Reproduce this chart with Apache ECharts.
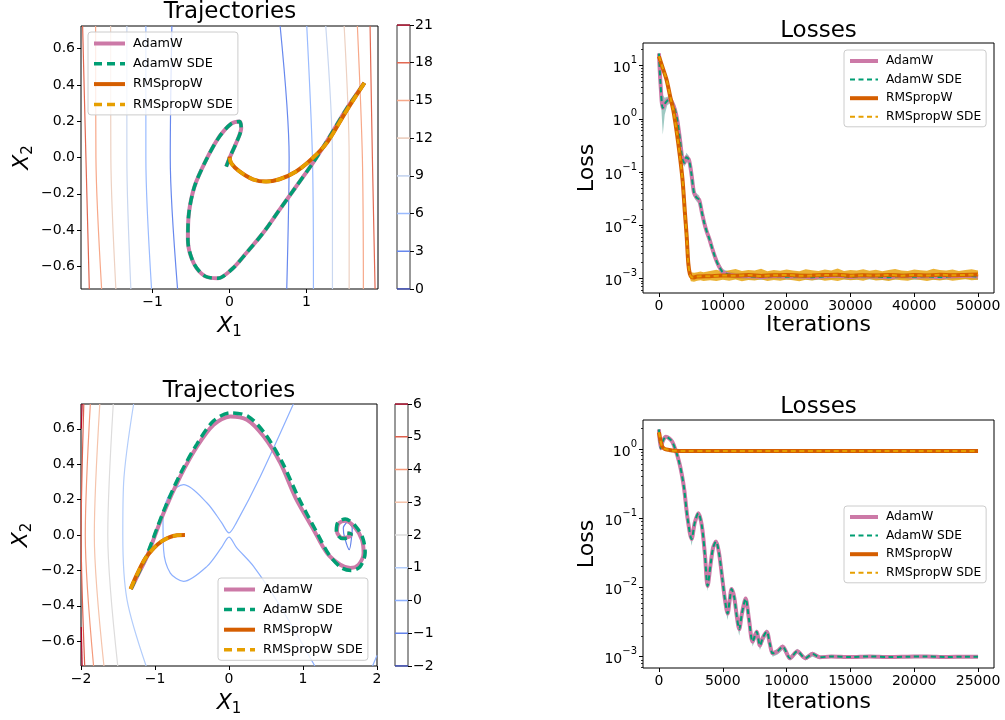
<!DOCTYPE html>
<html>
<head>
<meta charset="utf-8">
<script src="https://cdn.jsdelivr.net/npm/echarts@6.0.0/dist/echarts.min.js"></script>
<style>
  html, body { margin: 0; padding: 0; background: #fff; }
  #main { width: 1005px; height: 720px; }
</style>
</head>
<body>
<div id="main"></div>
<script>
// ---------- data ----------
const names = ['AdamW', 'AdamW SDE', 'RMSpropW', 'RMSpropW SDE'];

// tick values
const tlXTicks = [-1, 0, 1];
const tlYTicks = [-0.6, -0.4, -0.2, 0, 0.2, 0.4, 0.6];
const blXTicks = [-2, -1, 0, 1, 2];
const blYTicks = [-0.6, -0.4, -0.2, 0, 0.2, 0.4, 0.6];
const trXTicks = [0, 10000, 20000, 30000, 40000, 50000];
const brXTicks = [0, 5000, 10000, 15000, 20000, 25000];
const trYTicks = [0.001, 0.01, 0.1, 1, 10];
const brYTicks = [0.001, 0.01, 0.1, 1];
const trDecades = [0.0001, 0.001, 0.01, 0.1, 1, 10];
const brDecades = [0.0001, 0.001, 0.01, 0.1, 1];
const minorSteps = [2, 3, 4, 5, 6, 7, 8, 9];
const tlLevels = [0, 3, 6, 9, 12, 15, 18, 21];
const blLevels = [-2, -1, 0, 1, 2, 3, 4, 5, 6];

// contour lines (level, points) top-left
const tlContours = [
  { level: 18, pts: [[-1.909, 0.725], [-1.866, 0], [-1.822, -0.725]] },
  { level: 15, pts: [[-1.740, 0.725], [-1.736, 0], [-1.662, -0.725]] },
  { level: 12, pts: [[-1.545, 0.725], [-1.542, 0], [-1.477, -0.725]] },
  { level: 9,  pts: [[-1.334, 0.725], [-1.334, 0], [-1.282, -0.725]] },
  { level: 6,  pts: [[-1.087, 0.725], [-1.087, 0], [-1.013, -0.725]] },
  { level: 3,  pts: [[-0.749, 0.725], [-0.770, 0], [-0.675, -0.725]] },
  { level: 3,  pts: [[0.658, 0.725], [0.775, 0], [0.744, -0.725]] },
  { level: 6,  pts: [[1.004, 0.725], [1.078, 0], [1.091, -0.725]] },
  { level: 9,  pts: [[1.251, 0.725], [1.338, 0], [1.338, -0.725]] },
  { level: 12, pts: [[1.490, 0.725], [1.555, 0], [1.555, -0.725]] },
  { level: 15, pts: [[1.662, 0.725], [1.727, 0], [1.740, -0.725]] },
  { level: 18, pts: [[1.827, 0.725], [1.857, 0], [1.892, -0.725]] }
];

// contour lines bottom-left
const blContours = [
  { level: 6, pts: [[-1.985, 0.74], [-1.996, 0.60]] },
  { level: 6, pts: [[-1.996, -0.52], [-1.985, -0.74]] },
  { level: 5, pts: [[-1.962, 0.74], [-1.998, 0], [-1.950, -0.74]] },
  { level: 4, pts: [[-1.874, 0.74], [-1.942, 0], [-1.830, -0.74]] },
  { level: 3, pts: [[-1.746, 0.74], [-1.820, 0], [-1.690, -0.74]] },
  { level: 2, pts: [[-1.564, 0.74], [-1.638, 0], [-1.503, -0.74]] },
  { level: 1, pts: [[-1.289, 0.74], [-1.424, 0.294], [-1.435, 0], [-1.378, -0.366], [-1.12, -0.74]] },
  { level: 0, pts: [[0.87, 0.74], [0.423, 0.331], [0.1, 0.07], [0, 0.012], [-0.1, 0.07], [-0.297, 0.181],
                    [-0.614, 0.284], [-0.793, 0.237], [-0.892, 0.105], [-0.884, -0.083], [-0.793, -0.215],
                    [-0.614, -0.262], [-0.297, -0.177], [-0.1, -0.07], [0, -0.012], [0.1, -0.07],
                    [0.332, -0.177], [0.693, -0.403], [1.16, -0.74]] },
  { level: 0, pts: [[1.94, -0.74], [2.0, -0.68]] },
  { level: -1, pts: [[1.6, 0.075], [1.665, 0.04], [1.66, 0.0], [1.625, -0.083], [1.56, -0.01], [1.545, 0.04], [1.6, 0.075]] }
];

// trajectories top-left
const tlAdamW = [[1.753, 0.411], [1.515, 0.264], [1.277, 0.098], [1.082, -0.031], [0.866, -0.16], [0.649, -0.289],
  [0.433, -0.418], [0.216, -0.528], [0.043, -0.611], [-0.15, -0.666], [-0.32, -0.654], [-0.465, -0.583],
  [-0.541, -0.455], [-0.528, -0.307], [-0.455, -0.16], [-0.303, -0.013], [-0.13, 0.116], [0.022, 0.186],
  [0.13, 0.199], [0.152, 0.162], [0.087, 0.08], [0.009, 0.006], [-0.043, -0.05]];
const tlAdamWSde = tlAdamW;
const tlRms = [[1.753, 0.411], [1.515, 0.254], [1.277, 0.088], [1.082, -0.003], [0.866, -0.077], [0.649, -0.12],
  [0.476, -0.133], [0.303, -0.12], [0.13, -0.077], [0.022, -0.031], [0, 0.006]];
const tlRmsSde = tlRms;

// trajectories bottom-left
const blAdamW = [[-1.324, -0.305], [-1.2, -0.2], [-1.108, -0.121], [-0.884, 0.124], [-0.658, 0.331], [-0.432, 0.5],
  [-0.208, 0.623], [0.018, 0.67], [0.243, 0.651], [0.468, 0.557], [0.693, 0.407], [0.9, 0.21], [1.143, 0.03],
  [1.324, -0.102], [1.504, -0.168], [1.639, -0.186], [1.751, -0.168], [1.819, -0.102], [1.797, -0.027],
  [1.707, 0.04], [1.572, 0.08], [1.481, 0.065], [1.459, 0.02], [1.527, -0.017], [1.616, -0.011], [1.65, 0.005], [1.6, 0.01]];
const blAdamWSde = [[-1.324, -0.305], [-1.2, -0.195], [-1.108, -0.112], [-0.884, 0.135], [-0.658, 0.345], [-0.432, 0.515],
  [-0.208, 0.645], [0.018, 0.69], [0.26, 0.67], [0.49, 0.57], [0.72, 0.41], [0.94, 0.21], [1.18, 0.02],
  [1.35, -0.11], [1.52, -0.185], [1.65, -0.2], [1.77, -0.18], [1.84, -0.1], [1.81, -0.02], [1.71, 0.05],
  [1.57, 0.09], [1.47, 0.07], [1.45, 0.02], [1.53, -0.02], [1.62, -0.015], [1.65, 0.005], [1.6, 0.01]];
const blRms = [[-1.33, -0.305], [-1.24, -0.22], [-1.135, -0.135], [-1.02, -0.075], [-0.911, -0.036],
  [-0.8, -0.012], [-0.7, -0.002], [-0.595, 0.0]];
const blRmsSde = blRms;

// losses top-right
const trAdamIt = [0, 250, 600, 900, 1300, 1700, 2100, 2500, 2900, 3300, 3700, 4000, 4300, 4700, 5100, 5500, 5900,
  6300, 6700, 7100, 7500, 7900, 8300, 8700, 9100, 9500, 10000, 10500, 11000, 11500, 12000, 14000, 16000, 18000,
  20000, 22000, 24000, 26000, 28000, 30000, 32000, 34000, 36000, 38000, 40000, 42000, 44000, 46000, 48000, 50000];
const trAdam = [17, 4.5, 1.6, 1.9, 2.2, 2.3, 2.0, 1.5, 0.9, 0.4, 0.17, 0.15, 0.19, 0.17, 0.09, 0.04, 0.033, 0.03,
  0.018, 0.011, 0.0075, 0.0055, 0.0038, 0.0027, 0.002, 0.0016, 0.0013, 0.00122, 0.00118, 0.00115, 0.00112,
  0.00109, 0.00106, 0.00111, 0.00107, 0.0011, 0.00105, 0.00109, 0.00112, 0.00106, 0.0011, 0.00108, 0.00105,
  0.00111, 0.00107, 0.00109, 0.00106, 0.0011, 0.00112, 0.00108];
const trAdamLo = [15, 3.0, 0.5, 1.2, 1.8, 1.95, 1.65, 1.2, 0.72, 0.32, 0.14, 0.125, 0.16, 0.14, 0.075, 0.033, 0.028,
  0.025, 0.015, 0.009, 0.0062, 0.0046, 0.0032, 0.0023, 0.0017, 0.0014, 0.00115, 0.00106, 0.00102, 0.001, 0.00098,
  0.00095, 0.00093, 0.00097, 0.00094, 0.00096, 0.00092, 0.00095, 0.00098, 0.00093, 0.00096, 0.00094, 0.00092,
  0.00097, 0.00094, 0.00095, 0.00093, 0.00096, 0.00098, 0.00094];
const trAdamHi = [19, 6.0, 2.8, 2.5, 2.6, 2.7, 2.4, 1.85, 1.1, 0.5, 0.21, 0.18, 0.23, 0.2, 0.11, 0.048, 0.04, 0.036,
  0.022, 0.0135, 0.009, 0.0066, 0.0045, 0.0032, 0.0024, 0.0019, 0.0015, 0.0014, 0.00135, 0.0013, 0.00128,
  0.00125, 0.00122, 0.00127, 0.00123, 0.00126, 0.0012, 0.00125, 0.00128, 0.00122, 0.00126, 0.00124, 0.0012,
  0.00127, 0.00123, 0.00125, 0.00122, 0.00126, 0.00128, 0.00124];
const trRmsIt = [0, 600, 1200, 1800, 2240, 2800, 3290, 3700, 4070, 4350, 4600, 4850, 5120, 5500, 6000, 8000, 10000,
  12000, 14000, 16000, 18000, 20000, 22000, 24000, 26000, 28000, 30000, 32000, 34000, 36000, 38000, 40000, 42000,
  44000, 46000, 48000, 50000];
const trRms = [15, 9, 5.4, 2.5, 1.47, 0.55, 0.195, 0.07, 0.017, 0.006, 0.0019, 0.0012, 0.00105, 0.00104, 0.00108,
  0.0011, 0.00113, 0.00112, 0.00115, 0.00111, 0.00114, 0.00116, 0.00112, 0.00113, 0.00115, 0.00117, 0.00112,
  0.00114, 0.00113, 0.00116, 0.00112, 0.00115, 0.00113, 0.00117, 0.00114, 0.00116, 0.00118];
const trRmsBandIt = [4400, 4600, 4800, 5000, 5500, 6000, 6500, 7000, 8000, 9000, 10000, 11000, 12000, 13000, 14000,
  15000, 16000, 17000, 18000, 19000, 20000, 21000, 22000, 23000, 24000, 25000, 26000, 27000, 28000, 29000, 30000,
  31000, 32000, 33000, 34000, 35000, 36000, 37000, 38000, 39000, 40000, 41000, 42000, 43000, 44000, 45000, 46000,
  47000, 48000, 49000, 50000];
const trRmsLo = [0.0042, 0.0016, 0.00105, 0.00088, 0.00086, 0.0009, 0.00092, 0.00089,
  0.00092, 0.00089, 0.00094, 0.0009, 0.00095, 0.00088, 0.00093, 0.00091, 0.00096, 0.00089,
  0.00093, 0.0009, 0.00095, 0.00092, 0.00088, 0.00094, 0.00091, 0.00096, 0.0009, 0.00093,
  0.00089, 0.00095, 0.00092, 0.00094, 0.0009, 0.00097, 0.00091, 0.00093, 0.00089, 0.00095,
  0.00092, 0.0009, 0.00096, 0.00093, 0.00089, 0.00094, 0.00091, 0.00095, 0.0009, 0.00093,
  0.00096, 0.00092, 0.00094];
const trRmsHi = [0.0075, 0.0026, 0.0016, 0.0013, 0.00128, 0.0013, 0.00134, 0.0013,
  0.00138, 0.00145, 0.00135, 0.00142, 0.0015, 0.00137, 0.00144, 0.0014, 0.00152, 0.00136,
  0.00143, 0.00139, 0.00147, 0.00141, 0.00136, 0.00149, 0.00142, 0.00138, 0.00146, 0.0014,
  0.00153, 0.00137, 0.00144, 0.00141, 0.00148, 0.00139, 0.00145, 0.00136, 0.00143, 0.0015,
  0.00141, 0.00138, 0.00147, 0.00142, 0.00139, 0.00151, 0.00143, 0.0014, 0.00146, 0.00138,
  0.00144, 0.00149, 0.00141];

// losses bottom-right
const brAdamIt = [0, 140, 300, 550, 800, 1040, 1300, 1570, 1800, 1980, 2240, 2560, 2800, 3080, 3350, 3600, 3810,
  4050, 4250, 4470, 4700, 4950, 5180, 5380, 5550, 5690, 5900, 6100, 6290, 6500, 6790, 7050, 7340, 7650, 7910, 8150,
  8440, 8700, 8910, 9300, 9690, 10270, 10840, 11460, 12020, 12600, 13500, 15000, 16500, 18000, 19500, 21000,
  22500, 24000, 25000];
const brAdam = [1.92, 1.02, 1.3, 1.5, 1.42, 1.27, 0.97, 0.66, 0.42, 0.26, 0.1, 0.05, 0.085, 0.118, 0.08, 0.03,
  0.0105, 0.022, 0.038, 0.046, 0.032, 0.014, 0.0065, 0.0042, 0.0068, 0.0095, 0.0072, 0.0038, 0.0025, 0.0042,
  0.0069, 0.0035, 0.00165, 0.0023, 0.00145, 0.0019, 0.0023, 0.0015, 0.00112, 0.0012, 0.0014, 0.00095, 0.0012,
  0.00095, 0.0011, 0.00098, 0.00101, 0.00099, 0.00101, 0.00099, 0.001, 0.00101, 0.00099, 0.001, 0.001];
const brAdamLo = [1.85, 0.95, 1.25, 1.45, 1.38, 1.22, 0.92, 0.62, 0.39, 0.23, 0.085, 0.04, 0.075, 0.108, 0.07,
  0.024, 0.0088, 0.019, 0.034, 0.042, 0.028, 0.011, 0.0052, 0.0034, 0.0058, 0.0085, 0.006, 0.003, 0.002, 0.0035,
  0.0062, 0.0029, 0.0014, 0.002, 0.00125, 0.0016, 0.002, 0.0013, 0.001, 0.00108, 0.00125, 0.00088, 0.0011,
  0.00088, 0.001, 0.00093, 0.00096, 0.00094, 0.00096, 0.00094, 0.00095, 0.00096, 0.00094, 0.00095, 0.00095];
const brAdamHi = [1.98, 1.08, 1.35, 1.55, 1.46, 1.32, 1.02, 0.7, 0.45, 0.28, 0.11, 0.056, 0.092, 0.126, 0.088,
  0.034, 0.0118, 0.024, 0.041, 0.049, 0.035, 0.016, 0.0074, 0.0048, 0.0075, 0.0102, 0.008, 0.0043, 0.0029, 0.0047,
  0.0074, 0.0039, 0.0018, 0.0025, 0.0016, 0.0021, 0.0025, 0.0016, 0.0012, 0.0013, 0.0015, 0.00102, 0.0013,
  0.00102, 0.00118, 0.00103, 0.00106, 0.00104, 0.00106, 0.00104, 0.00105, 0.00106, 0.00104, 0.00105, 0.00105];
const brRmsIt = [0, 130, 260, 450, 780, 1200, 2000, 25000];
const brRms = [1.74, 1.3, 1.08, 1.0, 0.97, 0.945, 0.935, 0.935];

// ---------- styles ----------
const FONT = 'DejaVu Sans';
const colors = { 'AdamW': '#CC79A7', 'AdamW SDE': '#009E73', 'RMSpropW': '#D55E00', 'RMSpropW SDE': '#E69F00' };
const tlLevelColor = { 0: '#3b4cc0', 3: '#6788ee', 6: '#9abbff', 9: '#c9d7f0', 12: '#edd1c2', 15: '#f7a889', 18: '#e26952', 21: '#b40426' };
const blLevelColor = { '-2': '#3b4cc0', '-1': '#6282ea', '0': '#8db0fe', '1': '#b3cdfb', '2': '#dddcdc', '3': '#f5c4ac', '4': '#f49a7b', '5': '#de604d', '6': '#b40426' };

const minus = s => String(s).replace('-', '\u2212');
const fixed = d => v => minus((Math.abs(v) < 1e-9 ? 0 : v).toFixed(d));
const pow10 = v => '{b|10}{s|' + minus(Math.round(Math.log10(v))) + '}';
const sub = (a, b) => '{i|' + a + '}{s|' + b + '}';

const pairs = (xs, ys) => xs.map((x, i) => [x, ys[i]]);
const minorTicks = (decades, lo, hi) => [].concat(...decades.map(d => minorSteps.map(m => m * d)))
  .filter(v => v > lo && v < hi);

function axis(gi, min, max, ticks, fmt, name, gap, opts) {
  return Object.assign({
    type: 'value', gridIndex: gi, min, max,
    axisLine: { show: false, onZero: false },
    splitLine: { show: false },
    axisTick: { show: true, length: 4, customValues: ticks, lineStyle: { color: '#000', width: 1 } },
    axisLabel: {
      customValues: ticks, formatter: fmt, color: '#000', fontSize: 14, fontFamily: FONT, margin: 6,
      rich: {
        b: { fontSize: 14, fontFamily: FONT, color: '#000', lineHeight: 20, verticalAlign: 'bottom' },
        s: { fontSize: 10, fontFamily: FONT, color: '#000', lineHeight: 10, verticalAlign: 'top' }
      }
    },
    name, nameLocation: 'middle', nameGap: gap,
    nameTextStyle: {
      fontSize: 22, fontFamily: FONT, color: '#000',
      rich: {
        i: { fontSize: 22, fontFamily: FONT, fontStyle: 'italic', color: '#000', lineHeight: 28 },
        s: { fontSize: 15, fontFamily: FONT, color: '#000', lineHeight: 14, verticalAlign: 'bottom' }
      }
    }
  }, opts || {});
}

// second log axis on the same grid, only for the small minor ticks
function minorAxis(gi, min, max, ticks) {
  return {
    type: 'log', logBase: 10, gridIndex: gi, min, max, position: 'left',
    axisLine: { show: false, onZero: false }, splitLine: { show: false },
    axisTick: { show: true, length: 2, customValues: ticks, lineStyle: { color: '#000', width: 0.8 } },
    axisLabel: { show: false }
  };
}

function line(name, data, gi, width, dash, yi) {
  return {
    type: 'line', name, xAxisIndex: gi, yAxisIndex: yi == null ? gi : yi, data, smooth: 0.3, symbol: 'none',
    lineStyle: { color: colors[name], width, type: dash || 'solid', cap: 'butt' },
    itemStyle: { color: colors[name] }, z: 3, silent: true
  };
}

function contours(list, gi, cmap) {
  return list.map(c => ({
    type: 'line', xAxisIndex: gi, yAxisIndex: gi, data: c.pts, smooth: 0.3, symbol: 'none', silent: true,
    lineStyle: { color: cmap[c.level], width: 1.2 }, z: 1
  }));
}

function band(gi, its, lo, hi, color, opacity) {
  const poly = pairs(its, hi).concat(pairs(its, lo).reverse());
  return {
    type: 'custom', xAxisIndex: gi, yAxisIndex: gi, data: poly, silent: true, clip: true, z: 2,
    encode: { x: 0, y: 1 },
    renderItem: (params, api) => params.dataIndex === 0 ? {
      type: 'polygon', shape: { points: poly.map(p => api.coord(p)) }, style: { fill: color, opacity }
    } : null
  };
}

function cbar(gi, levels, cmap) {
  return levels.map(l => ({
    type: 'line', xAxisIndex: gi, yAxisIndex: gi, data: [[0, l], [1, l]], symbol: 'none', silent: true,
    lineStyle: { color: cmap[l], width: 1.6 }
  }));
}

function legend(left, top, iw, widths, dashes, fs, gap) {
  return {
    orient: 'vertical', left, top, selectedMode: false,
    itemWidth: iw, itemHeight: 12, itemGap: gap,
    padding: [5, 5, 4, 4],
    backgroundColor: 'rgba(255,255,255,0.8)', borderColor: '#cccccc', borderWidth: 1, borderRadius: 3,
    textStyle: { fontSize: fs, fontFamily: FONT, color: '#000', padding: [0, 0, 0, 3] },
    data: names.map((n, i) => ({
      name: n,
      itemStyle: { color: 'rgba(0,0,0,0)', borderWidth: 0 },
      lineStyle: { color: colors[n], width: widths[i], type: dashes[i], opacity: 1 }
    }))
  };
}

const trajDash = [9, 5];
const lossDash = [5, 3.5];
const gridBase = { show: true, borderColor: '#000', borderWidth: 1, outerBoundsMode: 'none' };
const titleFont = '23px "DejaVu Sans"';

const option = {
  animation: false,
  backgroundColor: '#fff',
  grid: [
    Object.assign({ left: 81, top: 26, width: 297, height: 263 }, gridBase),
    Object.assign({ left: 643, top: 43, width: 351, height: 250 }, gridBase),
    Object.assign({ left: 81, top: 404, width: 296, height: 262 }, gridBase),
    Object.assign({ left: 643, top: 420, width: 351, height: 248 }, gridBase),
    Object.assign({ left: 397, top: 25, width: 13, height: 264 }, gridBase, { borderColor: '#333' }),
    Object.assign({ left: 395, top: 404, width: 13, height: 262 }, gridBase, { borderColor: '#333' })
  ],
  xAxis: [
    axis(0, -1.93, 1.93, tlXTicks, fixed(0), sub('X', '1'), 23),
    axis(1, -2500, 52500, trXTicks, fixed(0), 'Iterations', 21),
    axis(2, -2, 2, blXTicks, fixed(0), sub('X', '1'), 23),
    axis(3, -1250, 26250, brXTicks, fixed(0), 'Iterations', 23),
    { type: 'value', gridIndex: 4, min: 0, max: 1, show: false },
    { type: 'value', gridIndex: 5, min: 0, max: 1, show: false }
  ],
  yAxis: [
    axis(0, -0.725, 0.725, tlYTicks, fixed(1), sub('X', '2'), 45),
    axis(1, 0.00053, 26.7, trYTicks, pow10, 'Loss', 45, { type: 'log', logBase: 10 }),
    axis(2, -0.74, 0.74, blYTicks, fixed(1), sub('X', '2'), 46),
    axis(3, 0.000687, 2.62, brYTicks, pow10, 'Loss', 45, { type: 'log', logBase: 10 }),
    {
      type: 'value', gridIndex: 4, position: 'right', min: 0, max: 21, interval: 3,
      axisLine: { show: false, onZero: false }, splitLine: { show: false },
      axisTick: { show: true, length: 4, lineStyle: { color: '#000' } },
      axisLabel: { color: '#000', fontSize: 14, fontFamily: FONT, margin: 5, formatter: v => minus(v) }
    },
    {
      type: 'value', gridIndex: 5, position: 'right', min: -2, max: 6, interval: 1,
      axisLine: { show: false, onZero: false }, splitLine: { show: false },
      axisTick: { show: true, length: 4, lineStyle: { color: '#000' } },
      axisLabel: { color: '#000', fontSize: 14, fontFamily: FONT, margin: 5, formatter: v => minus(v) }
    },
    minorAxis(1, 0.00053, 26.7, minorTicks(trDecades, 0.00053, 26.7)),
    minorAxis(3, 0.000687, 2.62, minorTicks(brDecades, 0.000687, 2.62))
  ],
  legend: [
    legend(88, 32, 31, [4, 3.5, 4, 3.5], ['solid', [8, 5], 'solid', [8, 5]], 12.8, 7.3),
    legend(844, 50, 28, [4, 2, 4, 2], ['solid', [5, 3.5], 'solid', [5, 3.5]], 12.2, 6.6),
    legend(218, 578, 31, [4, 3.5, 4, 3.5], ['solid', [8, 5], 'solid', [8, 5]], 12.8, 7.1),
    legend(844, 506, 28, [4, 2, 4, 2], ['solid', [5, 3.5], 'solid', [5, 3.5]], 12.2, 6.6)
  ],
  graphic: [
    { type: 'text', x: 230, y: 12, style: { text: 'Trajectories', font: titleFont, align: 'center', verticalAlign: 'middle', fill: '#000' } },
    { type: 'text', x: 818.5, y: 31, style: { text: 'Losses', font: titleFont, align: 'center', verticalAlign: 'middle', fill: '#000' } },
    { type: 'text', x: 229, y: 391, style: { text: 'Trajectories', font: titleFont, align: 'center', verticalAlign: 'middle', fill: '#000' } },
    { type: 'text', x: 818.5, y: 407, style: { text: 'Losses', font: titleFont, align: 'center', verticalAlign: 'middle', fill: '#000' } }
  ],
  series: [].concat(
    contours(tlContours, 0, tlLevelColor),
    [
      line('AdamW', tlAdamW, 0, 4),
      line('AdamW SDE', tlAdamWSde, 0, 3.5, trajDash),
      line('RMSpropW', tlRms, 0, 4),
      line('RMSpropW SDE', tlRmsSde, 0, 3.5, trajDash)
    ],
    [
      band(1, trAdamIt, trAdamLo, trAdamHi, '#4f9c8f', 0.55),
      band(1, trRmsBandIt, trRmsLo, trRmsHi, '#E69F00', 0.8),
      line('AdamW', pairs(trAdamIt, trAdam), 1, 4),
      line('AdamW SDE', pairs(trAdamIt, trAdam), 1, 2, lossDash),
      line('RMSpropW', pairs(trRmsIt, trRms), 1, 4),
      line('RMSpropW SDE', pairs(trRmsIt, trRms), 1, 2, lossDash)
    ],
    contours(blContours, 2, blLevelColor),
    [
      line('AdamW', blAdamW, 2, 4),
      line('AdamW SDE', blAdamWSde, 2, 3.5, trajDash),
      line('RMSpropW', blRms, 2, 4),
      line('RMSpropW SDE', blRmsSde, 2, 3.5, trajDash)
    ],
    [
      band(3, brAdamIt, brAdamLo, brAdamHi, '#4f9c8f', 0.55),
      line('AdamW', pairs(brAdamIt, brAdam), 3, 4),
      line('AdamW SDE', pairs(brAdamIt, brAdam), 3, 2, lossDash),
      line('RMSpropW', pairs(brRmsIt, brRms), 3, 4),
      line('RMSpropW SDE', pairs(brRmsIt, brRms), 3, 2, lossDash)
    ],
    cbar(4, tlLevels, tlLevelColor),
    cbar(5, blLevels, blLevelColor)
  )
};

const chart = echarts.init(document.getElementById('main'), null, { renderer: 'canvas' });
chart.setOption(option);
</script>
</body>
</html>
